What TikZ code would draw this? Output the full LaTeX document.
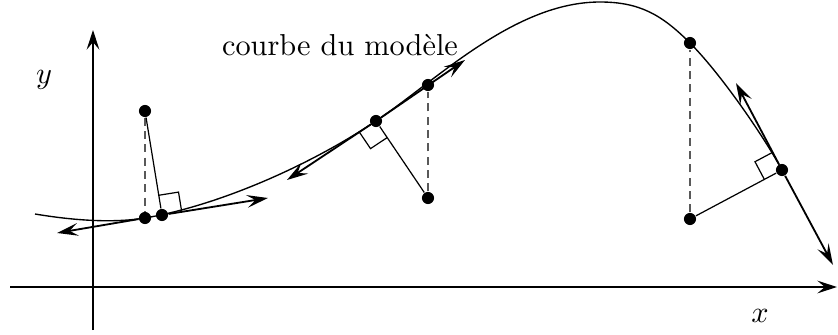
\documentclass[tikz,border=0pt]{standalone}
\usetikzlibrary{arrows.meta, calc}
\tikzset{
  dot/.style={circle, fill=black, inner sep=0pt, minimum size=4pt},
  axis/.style={line width=0.4pt, -{Stealth[length=6.5pt, width=4.2pt, inset=2.5pt]}},
  tangent/.style={line width=0.6pt, -{Stealth[length=7pt, width=4.2pt, inset=2.8pt]}},
  proj/.style={gray!70!black, dash pattern=on 2.6pt off 1.8pt, line width=0.4pt},
  perp/.style={line width=0.4pt},
  rightangle/.style={line width=0.4pt},
  model/.style={line width=0.45pt},
}
\newcommand{\rasize}{6.6pt}

\begin{document}
\begin{tikzpicture}[x=0.33pt, y=-0.33pt]
  \useasboundingbox (0,0) rectangle (838,334);

  % axes
  \coordinate (xa) at (10,287);
  \coordinate (xb) at (837,287);
  \coordinate (ya) at (93,330);
  \coordinate (yb) at (93,30);
  \draw[axis] (xa) -- (xb);
  \draw[axis] (ya) -- (yb);
  \node (xlab) at (760,316) {$x$};
  \node (ylab) at (44,80) {$y$};

  % model curve
  \draw[model] (35,214) .. controls (65,219) and (108,224) .. (145,218)
    .. controls (221,205) and (312,164) .. (376,121)
    .. controls (438,79) and (515,2) .. (600,2)
    .. controls (640,2) and (662,15) .. (690,43)
    .. controls (720,73) and (763,135) .. (782,170);
  \node (curvelab) at (340,45) {courbe du modèle};

  % data points and points on the curve
  \node[dot] (d1) at (145,111) {};
  \node[dot] (p1) at (145,218) {};
  \node[dot] (f1) at (162,215) {};
  \node[dot] (d2) at (428,198) {};
  \node[dot] (f2) at (376,121) {};
  \node[dot] (p2) at (428,85) {};
  \node[dot] (d3) at (690,219) {};
  \node[dot] (p3) at (690,43) {};
  \node[dot] (f3) at (782,170) {};

  % tangent ends
  \coordinate (t1a) at (57,233);
  \coordinate (t1b) at (268,198);
  \coordinate (t2a) at (287,180);
  \coordinate (t2b) at (465,60);
  \coordinate (t3a) at (736,83);
  \coordinate (t3b) at (833,265);

  \draw[proj] (d1) -- (p1);
  \draw[proj] (d2) -- (p2);
  \draw[proj] (d3) -- (p3);
  \draw[perp] (d1) -- (f1);
  \draw[perp] (d2) -- (f2);
  \draw[perp] (d3) -- (f3);

  \draw[tangent] (p1) -- (t1a);
  \draw[tangent] (f1) -- (t1b);
  \draw[tangent] (f2) -- (t2a);
  \draw[tangent] (f2) -- (t2b);
  \draw[tangent] (f3) -- (t3a);
  \draw[tangent] (f3) -- (t3b);

  % right angles
  \foreach \f/\d/\t in {f1/d1/t1b, f2/d2/t2a, f3/d3/t3a} {
    \coordinate (ra) at ($(\f)!\rasize!(\d)$);
    \coordinate (rb) at ($(\f)!\rasize!(\t)$);
    \draw[rightangle] (ra) -- ($(ra)+(rb)-(\f)$) -- (rb);
  }
\end{tikzpicture}
\end{document}
